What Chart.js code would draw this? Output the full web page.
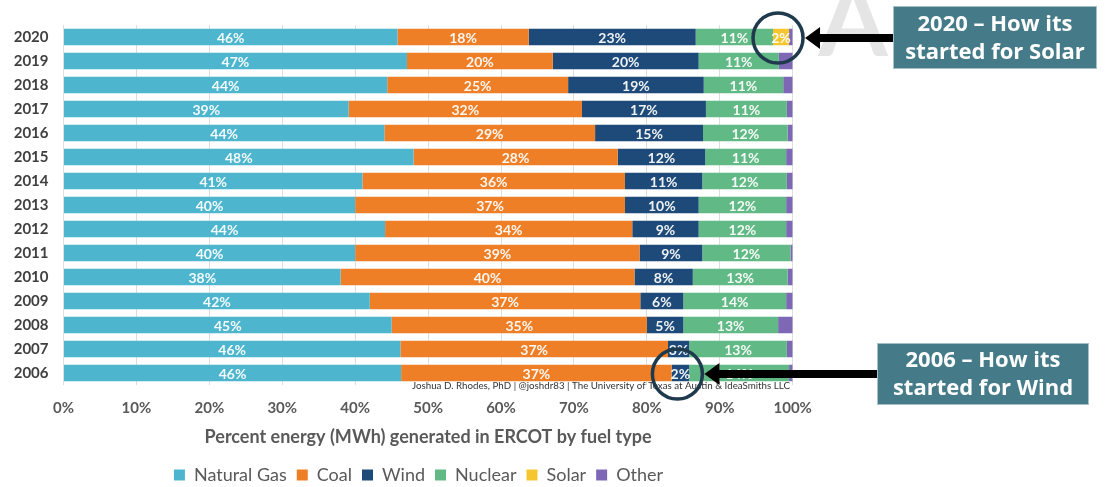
<!DOCTYPE html>
<html>
<head>
<meta charset="utf-8">
<title>ERCOT generation by fuel type</title>
<script src="https://cdn.jsdelivr.net/npm/chart.js@4"></script>
<style>
  html, body { margin: 0; padding: 0; background: #fff; }
  #wrap { width: 1106px; height: 487px; }
</style>
</head>
<body>
<div id="wrap"><canvas id="mix" width="1106" height="487"></canvas></div>
<script>
// share of energy by fuel, top row = most recent year
const years = ["2020", "2019", "2018", "2017", "2016", "2015", "2014", "2013",
               "2012", "2011", "2010", "2009", "2008", "2007", "2006"];
const naturalGas = [45.8, 47.1, 44.4, 39.1, 44.0, 48.0, 41.0, 40.0, 44.1, 40.0, 38.0, 42.0, 45.0, 46.2, 46.3];
const coal       = [18.0, 20.0, 24.8, 32.0, 28.9, 28.0, 36.0, 37.0, 33.9, 39.0, 40.3, 37.1, 35.0, 36.7, 37.1];
const wind       = [22.9, 20.0, 18.6, 17.0, 14.8, 12.0, 10.6, 10.1,  9.1,  8.6,  8.0,  5.9,  5.0,  2.9,  2.4];
const nuclear    = [10.6, 11.0, 10.9, 11.1, 11.6, 11.1, 11.6, 12.0, 12.0, 12.1, 13.0, 14.1, 13.0, 13.4, 13.7];
const solar      = [ 2.2,  0,    0,    0,    0,    0,    0,    0,    0,    0,    0,    0,    0,    0,    0  ];
const other      = [ 0.5,  1.9,  1.3,  0.8,  0.7,  0.9,  0.8,  0.9,  0.9,  0.3,  0.7,  0.9,  2.0,  0.8,  0.5];
const xTicks = [0, 10, 20, 30, 40, 50, 60, 70, 80, 90, 100];

const credit = "Joshua D. Rhodes, PhD | @joshdr83 | The University of Texas at Austin & IdeaSmiths LLC";
const notes = [
  { row: 0,  series: 4, lines: ["2020 \u2013 How its", "started for Solar"], box: [893, 6, 204, 63] },
  { row: 14, series: 2, lines: ["2006 \u2013 How its", "started for Wind"],  box: [877, 343, 212, 62] }
];

const series = [
  { label: "Natural Gas", data: naturalGas, color: "#4db6ce" },
  { label: "Coal",        data: coal,       color: "#ef7f26" },
  { label: "Wind",        data: wind,       color: "#1d4a78" },
  { label: "Nuclear",     data: nuclear,    color: "#61b985" },
  { label: "Solar",       data: solar,      color: "#f6c630" },
  { label: "Other",       data: other,      color: "#7e68b6" }
];

// percentages written inside each segment (not for "Other")
const valueLabels = {
  id: "valueLabels",
  afterDatasetsDraw(chart) {
    const ctx = chart.ctx;
    ctx.save();
    ctx.font = "bold 14px Lato";
    ctx.fillStyle = "rgba(255,255,255,0.93)";
    ctx.textAlign = "center";
    ctx.textBaseline = "middle";
    chart.data.datasets.forEach((ds, i) => {
      if (ds.label === "Other") return;
      chart.getDatasetMeta(i).data.forEach((bar, j) => {
        const v = ds.data[j];
        if (!v) return;
        const c = bar.getCenterPoint();
        ctx.fillText(Math.round(v) + "%", c.x, c.y + 1);
      });
    });
    ctx.restore();
  }
};

function arrowLeft(ctx, fromX, tipX, y) {
  ctx.beginPath();
  ctx.moveTo(fromX, y - 4);
  ctx.lineTo(tipX + 15, y - 4);
  ctx.lineTo(tipX + 15, y - 11);
  ctx.lineTo(tipX, y);
  ctx.lineTo(tipX + 15, y + 11);
  ctx.lineTo(tipX + 15, y + 4);
  ctx.lineTo(fromX, y + 4);
  ctx.closePath();
  ctx.fill();
}

const annotations = {
  id: "annotations",
  beforeDraw(chart) {
    // faint watermark letter behind the top right
    const ctx = chart.ctx;
    ctx.save();
    ctx.font = "bold 100px Lato";
    ctx.fillStyle = "rgba(0,0,0,0.1)";
    ctx.textAlign = "center";
    ctx.textBaseline = "alphabetic";
    ctx.fillText("A", 853, 56);
    ctx.restore();
  },
  afterDraw(chart) {
    const { ctx, scales: { x, y } } = chart;
    ctx.save();

    // source credit under the bars
    ctx.font = "10px Lato";
    ctx.fillStyle = "#333";
    ctx.textAlign = "right";
    ctx.textBaseline = "middle";
    ctx.fillText(credit, 790, 386, 378);

    notes.forEach(n => {
      let before = 0;
      for (let s = 0; s < n.series; s++) before += series[s].data[n.row];
      const cx = x.getPixelForValue(before + series[n.series].data[n.row] / 2) - 3;
      const cy = y.getPixelForValue(n.row) + 1;
      const r = 25;

      ctx.strokeStyle = "#1e3a4c";
      ctx.lineWidth = 3.5;
      ctx.beginPath();
      ctx.arc(cx, cy, r, 0, Math.PI * 2);
      ctx.stroke();

      const [bx, by, bw, bh] = n.box;
      ctx.fillStyle = "#000";
      arrowLeft(ctx, bx, cx + r + 2, cy);

      ctx.fillStyle = "#457b89";
      ctx.fillRect(bx, by, bw, bh);
      ctx.strokeStyle = "#a9c0c6";
      ctx.lineWidth = 1;
      ctx.strokeRect(bx + 0.5, by + 0.5, bw - 1, bh - 1);

      ctx.fillStyle = "#fff";
      ctx.font = "bold 22px 'Open Sans'";
      ctx.textAlign = "center";
      ctx.textBaseline = "middle";
      ctx.fillText(n.lines[0], bx + bw / 2, by + bh / 2 - 13);
      ctx.fillText(n.lines[1], bx + bw / 2, by + bh / 2 + 15);
    });
    ctx.restore();
  }
};

new Chart(document.getElementById("mix"), {
  type: "bar",
  data: {
    labels: years,
    datasets: series.map(s => ({
      label: s.label,
      data: s.data,
      backgroundColor: s.color,
      borderWidth: 0,
      barPercentage: 0.68,
      categoryPercentage: 1
    }))
  },
  options: {
    indexAxis: "y",
    responsive: false,
    animation: false,
    layout: { padding: { top: 25, right: 269, bottom: -7, left: 0 } },
    scales: {
      x: {
        stacked: true,
        min: 0,
        max: 100,
        afterBuildTicks: scale => { scale.ticks = xTicks.map(v => ({ value: v })); },
        afterFit: scale => { scale.height = 71; },
        grid: { color: "#dedede", drawTicks: false },
        border: { display: false },
        ticks: {
          padding: 14,
          color: "#595959",
          font: { family: "Lato", size: 15, weight: "bold" },
          callback: v => v + "%"
        },
        title: {
          display: true,
          text: "Percent energy (MWh) generated in ERCOT by fuel type",
          color: "#595959",
          font: { family: "Lato", size: 18, weight: "bold" },
          padding: { top: 4, bottom: 8 }
        }
      },
      y: {
        stacked: true,
        afterFit: scale => { scale.width = 63.5; },
        grid: { display: false, drawTicks: false },
        border: { display: false },
        ticks: {
          padding: 15,
          color: "#404040",
          font: { family: "Lato", size: 15, weight: "bold" }
        }
      },
      // empty strip on the right so the legend sits centred under the plot
      spacer: {
        type: "category",
        labels: years,
        position: "right",
        display: true,
        afterFit: scale => { scale.width = 44.3; },
        grid: { display: false, drawTicks: false },
        border: { display: false },
        ticks: { display: false }
      }
    },
    plugins: {
      legend: {
        position: "bottom",
        labels: {
          boxWidth: 11,
          boxHeight: 11,
          padding: 10,
          color: "#595959",
          font: { family: "Lato", size: 18 }
        }
      },
      tooltip: { enabled: false }
    }
  },
  plugins: [valueLabels, annotations]
});
</script>
</body>
</html>
